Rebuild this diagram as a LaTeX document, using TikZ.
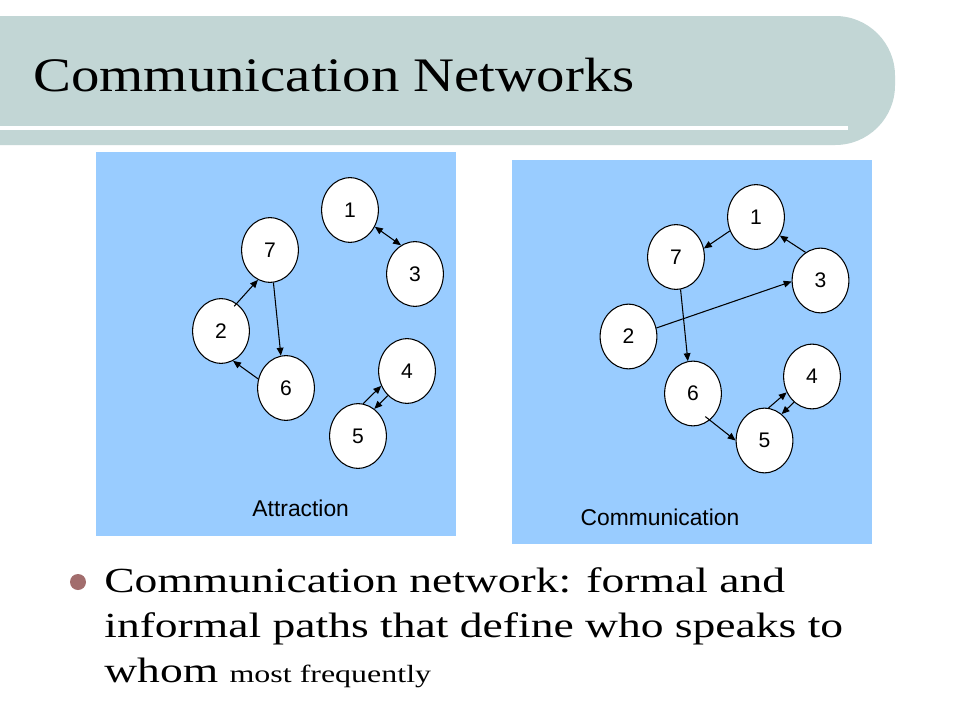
\documentclass[tikz,border=0pt]{standalone}
\usepackage{fontspec}
\setmainfont{Liberation Serif}
\setsansfont{Liberation Sans}
\newfontfamily\titlefont[FakeStretch=1.18]{Liberation Serif}
\newfontfamily\bodyfont[FakeStretch=1.29]{Liberation Serif}
\usepackage{tikz}
\usetikzlibrary{arrows.meta,positioning,calc,shapes.geometric}
\definecolor{banner}{HTML}{C2D6D5}
\definecolor{panel}{HTML}{99CCFF}
\definecolor{dot}{HTML}{A26D6D}
\definecolor{ink}{HTML}{000000}

\begin{document}
\begin{tikzpicture}[
    x=0.02cm, y=-0.02cm,
    person/.style={ellipse, draw=ink, line width=0.6pt, fill=white, inner sep=0pt,
      minimum width=32.3pt, minimum height=36.8pt, font=\sffamily\fontsize{12}{14}\selectfont},
    link/.style={-{Triangle[length=4.5pt,width=3.8pt]}, line width=0.6pt, draw=ink},
    both/.style={{Triangle[length=4.5pt,width=3.8pt]}-{Triangle[length=4.5pt,width=3.8pt]}, line width=0.6pt, draw=ink},
    caption/.style={anchor=base, inner sep=0pt, font=\sffamily\fontsize{13}{15}\selectfont},
    bline/.style={anchor=base west, inner sep=0pt, font=\bodyfont\fontsize{20.1}{25.5}\selectfont}
  ]
    \useasboundingbox (0,0) rectangle (960,720);
    \fill[white] (0,0) rectangle (960,720);
    \fill[banner, rounded corners=34pt] (-150,16) -- (895,16) -- (895,145) -- (-150,145) -- cycle;
    \fill[white] (0,126) rectangle (848,130);
    \node[anchor=base west, inner sep=0pt, font=\titlefont\fontsize{27.4}{30}\selectfont] (title) at (33,91) {Communication Networks};

    \fill[panel] (96,152) rectangle (456,536);
    \fill[panel] (512,160) rectangle (872,544);

    \node[person] (a1) at (350,210) {1};
    \node[person] (a7) at (270,250) {7};
    \node[person] (a3) at (415,274) {3};
    \node[person] (a2) at (221,331) {2};
    \node[person] (a6) at (286,388) {6};
    \node[person] (a4) at (407,371) {4};
    \node[person] (a5) at (358,436) {5};
    \draw[both] (a1.326) -- (a3.116);
    \draw[link] ($(a2.center)!0.88!(a2.62)$) -- (a7.248);
    \draw[link] (a7.276) -- (a6.99);
    \draw[link] (a6.162) -- (a2.292);
    \draw[link] (a5.81) -- (a4.210);
    \draw[link] (a4.232) -- (a5.59);
    \node[caption] (attr) at (300.7,516.7) {Attraction};

    \node[person] (c1) at (756,217) {1};
    \node[person] (c7) at (676,257) {7};
    \node[person] (c3) at (820.5,280.5) {3};
    \node[person] (c2) at (628.5,336.5) {2};
    \node[person] (c6) at (693,393.5) {6};
    \node[person] (c4) at (812,376.5) {4};
    \node[person] (c5) at (764.5,440.5) {5};
    \draw[link] (c1.208) -- (c7.17);
    \draw[link] (c3.118) -- (c1.322);
    \draw[link] (c2.17) -- (c3.182);
    \draw[link] (c7.278) -- (c6.99);
    \draw[link] ($(c6.center)!0.82!(c6.298)$) -- (c5.180);
    \draw[link] (c5.83) -- (c4.212);
    \draw[link] (c4.235) -- (c5.57);
    \node[caption] (comm) at (660,525) {Communication};

    \fill[dot] (78,582) circle (8);
    \node[bline] (line1) at (104,592) {Communication network: formal and};
    \node[bline] (line2) at (104,637) {informal paths that define who speaks to};
    \node[bline] (line3) at (104,682) {whom {\fontsize{14.1}{16}\selectfont most frequently}};
  \end{tikzpicture}
\end{document}
